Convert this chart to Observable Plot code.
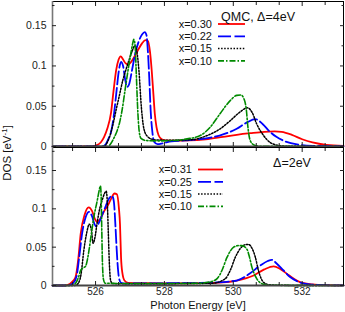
<!DOCTYPE html>
<html><head><meta charset="utf-8">
<script src="https://cdn.jsdelivr.net/npm/d3@7"></script>
<script src="https://cdn.jsdelivr.net/npm/@observablehq/plot@0.6"></script>
<style>
body{margin:0;background:#fff;}
#wrap{position:relative;width:345px;height:312px;font-family:"Liberation Sans",Arial,Helvetica,sans-serif;}
#wrap svg{display:block;}
#overlay{position:absolute;left:0;top:0;pointer-events:none;}
</style></head><body><div id="wrap"></div>
<script>
// ---------- axes / ticks ----------
const xDomain = [524.75, 533.2];
const yDomain = [0, 0.18];
const xMajor = [526, 528, 530, 532];
const xTickLabels = ["526", "528", "530", "532"];
const xMinor = [525.333, 526.667, 527.333, 528.667, 529.333, 530.667, 531.333, 532.667];
const yMajor = [0, 0.05, 0.1, 0.15];
const yTickLabels = ["0", "0.05", "0.1", "0.15"];
const yMinor = [0.025, 0.075, 0.125, 0.175];
const xTitle = "Photon Energy [eV]";

// ---------- top panel (QMC, Δ=4eV) ----------
const topLabels = ["x=0.30", "x=0.22", "x=0.15", "x=0.10"];
const topNote = "QMC, Δ=4eV";
const top030E = [524.75,525.9,526.0,526.15,526.25,526.34,526.45,526.52,526.6,526.67,526.73,526.8,526.88,526.96,527.05,527.15,527.25,527.35,527.45,527.52,527.58,527.63,527.68,527.72,527.77,527.83,527.92,528.03,528.3,528.7,529.2,529.7,530.1,530.5,530.9,531.2,531.4,531.7,532.0,532.3,532.7,533.2];
const top030D = [0,0,0.001,0.005,0.012,0.022,0.042,0.068,0.095,0.108,0.112,0.108,0.103,0.102,0.106,0.113,0.121,0.128,0.132,0.131,0.118,0.095,0.065,0.041,0.024,0.014,0.009,0.0075,0.0072,0.0075,0.009,0.012,0.0145,0.0165,0.0182,0.0188,0.0182,0.0145,0.009,0.005,0.002,0.0008];
const top022E = [524.75,526.2,526.3,526.38,526.45,526.52,526.6,526.67,526.74,526.8,526.86,526.92,526.98,527.06,527.15,527.25,527.35,527.43,527.48,527.52,527.56,527.6,527.65,527.7,527.8,527.95,528.2,528.6,529.1,529.6,530.1,530.4,530.64,530.85,531.07,531.25,531.45,531.85,532.3,533.2];
const top022D = [0,0,0.003,0.01,0.018,0.035,0.065,0.092,0.105,0.1,0.083,0.074,0.078,0.095,0.115,0.13,0.139,0.142,0.138,0.118,0.085,0.045,0.018,0.006,0.003,0.004,0.0065,0.0075,0.0095,0.0136,0.022,0.03,0.034,0.028,0.018,0.012,0.0074,0.0025,0.0008,0.0002];
const top015E = [524.75,526.25,526.35,526.45,526.53,526.6,526.68,526.79,526.88,526.97,527.06,527.14,527.2,527.26,527.33,527.38,527.43,527.52,527.6,527.8,528.3,528.8,529.24,529.62,529.91,530.2,530.41,530.55,530.68,530.88,531.07,531.3,531.6,533.2];
const top015D = [0,0,0.006,0.018,0.032,0.046,0.061,0.082,0.095,0.107,0.118,0.125,0.118,0.094,0.049,0.028,0.018,0.012,0.0095,0.008,0.0078,0.0085,0.0136,0.022,0.032,0.043,0.048,0.042,0.028,0.0136,0.005,0.0015,0.0003,0];
const top010E = [524.75,526.35,526.45,526.55,526.63,526.7,526.77,526.87,526.99,527.07,527.11,527.15,527.18,527.23,527.27,527.32,527.45,527.8,528.3,528.66,529.04,529.33,529.62,529.91,530.1,530.22,530.32,530.38,530.42,530.49,530.6,530.8,533.2];
const top010D = [0,0,0.004,0.012,0.02,0.03,0.045,0.074,0.107,0.126,0.133,0.125,0.094,0.041,0.018,0.01,0.0075,0.007,0.0075,0.0095,0.0136,0.024,0.041,0.057,0.0635,0.064,0.058,0.045,0.026,0.0074,0.002,0.0003,0];

// ---------- bottom panel (Δ=2eV) ----------
const botLabels = ["x=0.31", "x=0.25", "x=0.15", "x=0.10"];
const botNote = "Δ=2eV";
const bot031E = [524.75,525.1,525.25,525.35,525.42,525.5,525.57,525.68,525.8,525.9,525.98,526.05,526.15,526.25,526.34,526.45,526.55,526.62,526.68,526.71,526.74,526.78,526.84,526.95,527.3,528.0,529.13,529.8,530.1,530.59,530.9,531.17,531.35,531.55,531.75,531.94,532.3,532.7,533.2];
const bot031D = [0,0,0.002,0.006,0.011,0.035,0.068,0.092,0.102,0.097,0.087,0.083,0.088,0.097,0.103,0.113,0.12,0.119,0.1,0.08,0.037,0.016,0.0065,0.0035,0.003,0.0028,0.003,0.0045,0.0065,0.013,0.021,0.025,0.022,0.0155,0.009,0.0043,0.0013,0.0004,0.0001];
const bot025E = [524.75,525.2,525.35,525.45,525.52,525.61,525.72,525.81,525.9,525.97,526.02,526.1,526.2,526.3,526.4,526.48,526.53,526.58,526.61,526.64,526.68,526.74,526.85,527.5,528.5,529.5,530.1,530.49,530.78,531.0,531.12,531.25,531.46,531.65,531.85,532.2,532.6,533.2];
const bot025D = [0,0,0.003,0.012,0.035,0.068,0.09,0.096,0.09,0.08,0.077,0.082,0.093,0.104,0.114,0.117,0.11,0.076,0.05,0.028,0.01,0.0035,0.0025,0.0028,0.003,0.004,0.0065,0.016,0.026,0.032,0.0335,0.029,0.0196,0.011,0.0056,0.0015,0.0004,0.0001];
const bot015E = [524.75,525.4,525.5,525.58,525.66,525.74,525.82,525.88,525.93,525.98,526.05,526.12,526.19,526.26,526.31,526.34,526.37,526.4,526.44,526.5,527.0,528.5,529.4,529.77,529.91,530.06,530.2,530.33,530.44,530.55,530.64,530.73,530.8,530.88,531.05,531.4,533.2];
const bot015D = [0,0,0.003,0.015,0.046,0.068,0.08,0.072,0.055,0.062,0.083,0.1,0.111,0.12,0.123,0.11,0.07,0.03,0.006,0.0025,0.0022,0.0025,0.003,0.009,0.0196,0.037,0.048,0.053,0.0535,0.048,0.037,0.0196,0.01,0.004,0.001,0.0002,0];
const bot010E = [524.75,525.3,525.42,525.5,525.57,525.64,525.71,525.76,525.81,525.88,525.95,526.05,526.11,526.14,526.16,526.18,526.2,526.23,526.28,527.0,528.0,529.0,529.35,529.53,529.67,529.82,530.01,530.15,530.25,530.4,530.47,530.54,530.68,530.85,531.1,533.2];
const bot010D = [0,0,0.003,0.01,0.02,0.023,0.025,0.033,0.046,0.068,0.089,0.111,0.125,0.13,0.12,0.075,0.03,0.008,0.003,0.0025,0.0025,0.003,0.005,0.009,0.0196,0.037,0.05,0.052,0.052,0.047,0.037,0.024,0.009,0.002,0.0003,0];

// ---------- styles ----------
const styles = [
  {stroke: "#ff0000", strokeWidth: 1.8, dash: null},
  {stroke: "#0000ff", strokeWidth: 1.8, dash: "13,3.5"},
  {stroke: "#000000", strokeWidth: 1.5, dash: "1.5,1.6"},
  {stroke: "#008a00", strokeWidth: 1.6, dash: "6,2,1.5,2"}
];
const FONT = '"Liberation Sans", Arial, Helvetica, sans-serif';

function rows(E, D) { return E.map((e, i) => ({E: e, dos: D[i]})); }

function panel({series, height, marginTop, marginBottom, xLabels}) {
  const marks = [];
  series.forEach((s, i) => {
    marks.push(Plot.line(s, {x: "E", y: "dos", curve: "monotone-x",
      stroke: styles[i].stroke, strokeWidth: styles[i].strokeWidth,
      strokeDasharray: styles[i].dash}));
  });
  marks.push(Plot.frame({stroke: "#000", strokeWidth: 1}));
  marks.push(Plot.ruleX([xDomain[0]], {stroke: "#777", strokeWidth: 1.6}));
  marks.push(Plot.ruleY([0], {stroke: "#444", strokeWidth: 2}));
  // inward ticks on all four sides
  marks.push(Plot.axisY(yMajor, {anchor: "left", tickSize: 4, dx: 4, fill: "none", label: null, stroke: "#222"}));
  marks.push(Plot.axisY(yMinor, {anchor: "left", tickSize: 2.5, dx: 2.5, fill: "none", label: null, stroke: "#222"}));
  marks.push(Plot.axisY(yMajor, {anchor: "right", tickSize: 4, dx: -4, fill: "none", label: null, stroke: "#222"}));
  marks.push(Plot.axisY(yMinor, {anchor: "right", tickSize: 2.5, dx: -2.5, fill: "none", label: null, stroke: "#222"}));
  marks.push(Plot.axisX(xMajor, {anchor: "bottom", tickSize: 4, dy: -4, fill: "none", label: null, stroke: "#222"}));
  marks.push(Plot.axisX(xMinor, {anchor: "bottom", tickSize: 3, dy: -3, fill: "none", label: null, stroke: "#222"}));
  marks.push(Plot.axisX(xMajor, {anchor: "top", tickSize: 4, dy: 4, fill: "none", label: null, stroke: "#222"}));
  marks.push(Plot.axisX(xMinor, {anchor: "top", tickSize: 3, dy: 3, fill: "none", label: null, stroke: "#222"}));
  // tick labels
  marks.push(Plot.axisY(yMajor, {anchor: "left", tickSize: 0, tickPadding: 6, label: null,
    tickFormat: (d) => yTickLabels[yMajor.indexOf(d)], fill: "#222", fontSize: 10.5}));
  if (xLabels) {
    marks.push(Plot.axisX(xMajor, {anchor: "bottom", tickSize: 0, tickPadding: 2, label: null,
      tickFormat: (d) => xTickLabels[xMajor.indexOf(d)], fill: "#222", fontSize: 10}));
    marks.push(Plot.text([xTitle], {text: (d) => d, frameAnchor: "bottom", dy: 19.5,
      lineAnchor: "middle", fontSize: 11, fill: "#111"}));
  }
  return Plot.plot({
    width: 345, height, marginLeft: 52, marginRight: 2, marginTop, marginBottom,
    x: {domain: xDomain, axis: null},
    y: {domain: yDomain, axis: null},
    style: {fontFamily: FONT, fontSize: "10.5px", background: "transparent", overflow: "visible"},
    marks
  });
}

function legend(svg, labels, {textRight, x1, x2, ys, note, noteX, noteY}) {
  const g = d3.select(svg).append("g").attr("font-family", FONT);
  labels.forEach((lab, i) => {
    g.append("text").attr("x", textRight).attr("y", ys[i]).attr("text-anchor", "end")
      .attr("dy", "0.35em").attr("font-size", 11).attr("fill", "#111").text(lab);
    const ln = g.append("line").attr("x1", x1).attr("x2", x2).attr("y1", ys[i]).attr("y2", ys[i])
      .attr("stroke", styles[i].stroke).attr("stroke-width", styles[i].strokeWidth);
    if (styles[i].dash) ln.attr("stroke-dasharray", styles[i].dash);
  });
  g.append("text").attr("x", noteX).attr("y", noteY).attr("dy", "0.35em")
    .attr("font-size", 12.5).attr("fill", "#111").text(note);
}

const wrap = document.getElementById("wrap");

const topSvg = panel({
  series: [rows(top030E, top030D), rows(top022E, top022D), rows(top015E, top015D), rows(top010E, top010D)],
  height: 147, marginTop: 1, marginBottom: 1, xLabels: false
});
wrap.appendChild(topSvg);
legend(topSvg, topLabels, {textRight: 212, x1: 218, x2: 245, ys: [24, 36.3, 48.6, 60.9],
  note: topNote, noteX: 258, noteY: 17});

const botSvg = panel({
  series: [rows(bot031E, bot031D), rows(bot025E, bot025D), rows(bot015E, bot015D), rows(bot010E, bot010D)],
  height: 165, marginTop: 0, marginBottom: 27, xLabels: true
});
wrap.appendChild(botSvg);
legend(botSvg, botLabels, {textRight: 192, x1: 198, x2: 223, ys: [22.5, 34.8, 47.1, 59.4],
  note: botNote, noteX: 292, noteY: 16});

// shared y-axis title
const ov = d3.select(wrap).append("svg").attr("id", "overlay").attr("width", 345).attr("height", 312);
const yt = ov.append("text").attr("transform", "translate(11,153) rotate(-90)")
  .attr("text-anchor", "middle").attr("font-family", FONT).attr("font-size", 11.5).attr("fill", "#111");
yt.append("tspan").text("DOS [eV");
yt.append("tspan").attr("font-size", 8).attr("dy", "-0.45em").text("-1");
yt.append("tspan").attr("dy", "0.3em").text("]");
</script>
</body></html>
